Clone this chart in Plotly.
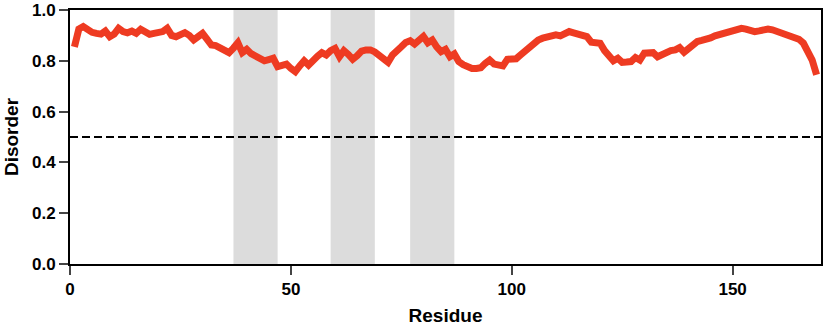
import plotly.graph_objects as go

residues = list(range(1, 170))
disorder = [
    0.855, 0.925, 0.935, 0.920, 0.912, 0.908, 0.905, 0.917, 0.895, 0.905,
    0.928, 0.915, 0.910, 0.917, 0.908, 0.924, 0.912, 0.904, 0.908, 0.912,
    0.915, 0.928, 0.900, 0.895, 0.900, 0.911, 0.900, 0.882, 0.895, 0.908,
    0.885, 0.862, 0.860, 0.849, 0.845, 0.832, 0.850, 0.871, 0.832, 0.845,
    0.828, 0.816, 0.805, 0.800, 0.805, 0.810, 0.777, 0.783, 0.787, 0.770,
    0.757, 0.780, 0.800, 0.783, 0.805, 0.818, 0.832, 0.823, 0.840, 0.849,
    0.816, 0.840, 0.825, 0.806, 0.820, 0.838, 0.843, 0.843, 0.835, 0.820,
    0.805, 0.794, 0.823, 0.835, 0.855, 0.872, 0.879, 0.866, 0.880, 0.896,
    0.871, 0.882, 0.855, 0.836, 0.845, 0.816, 0.827, 0.797, 0.785, 0.775,
    0.770, 0.770, 0.773, 0.790, 0.803, 0.787, 0.782, 0.780, 0.806, 0.806,
    0.808, 0.823, 0.838, 0.860, 0.869, 0.882, 0.889, 0.895, 0.898, 0.902,
    0.898, 0.905, 0.915, 0.910, 0.906, 0.904, 0.895, 0.873, 0.869, 0.869,
    0.840, 0.815, 0.800, 0.810, 0.794, 0.795, 0.797, 0.813, 0.803, 0.830,
    0.830, 0.832, 0.816, 0.825, 0.836, 0.840, 0.843, 0.852, 0.834, 0.850,
    0.865, 0.876, 0.880, 0.882, 0.890, 0.898, 0.904, 0.908, 0.912, 0.922,
    0.925, 0.928, 0.925, 0.918, 0.915, 0.918, 0.924, 0.925, 0.922, 0.917,
    0.912, 0.905, 0.902, 0.895, 0.885, 0.870, 0.840, 0.803, 0.745,
]
regions = [(37, 47), (59, 69), (77, 87)]
threshold = 0.5
x_ticks = [0, 50, 100, 150]
y_ticks = [0.0, 0.2, 0.4, 0.6, 0.8, 1.0]

fig = go.Figure()
fig.add_trace(go.Scatter(
    x=residues, y=disorder, mode="lines",
    line=dict(color="#ee3b22", width=7), showlegend=False,
))

for x0, x1 in regions:
    fig.add_shape(type="rect", x0=x0, x1=x1, y0=0, y1=1, xref="x", yref="y",
                  fillcolor="#dcdcdc", line=dict(width=0), layer="below")

fig.add_shape(type="line", x0=0, x1=170, y0=threshold, y1=threshold,
              xref="x", yref="y", line=dict(color="black", width=2, dash="8px,4px"))

font_tick = dict(family="Liberation Sans, Arial", size=17, color="black", weight="bold")
font_title = dict(family="Liberation Sans, Arial", size=19, color="black", weight="bold")

fig.update_layout(
    width=826, height=328,
    margin=dict(l=70, r=5, t=10, b=64, autoexpand=False),
    plot_bgcolor="white", paper_bgcolor="white",
    xaxis=dict(range=[0, 170], tickvals=x_ticks, ticks="outside", ticklen=9,
               tickwidth=2, showline=True, linewidth=2, linecolor="black",
               mirror=True, showgrid=False, zeroline=False, tickfont=font_tick,
               automargin=False,
               title=dict(text="Residue", font=font_title, standoff=10)),
    yaxis=dict(range=[0, 1], tickvals=y_ticks, tickformat=".1f", ticks="outside",
               ticklen=9, tickwidth=2, showline=True, linewidth=2, linecolor="black",
               mirror=True, showgrid=False, zeroline=False, tickfont=font_tick,
               automargin=False,
               title=dict(text="Disorder", font=font_title, standoff=8)),
)

fig.write_html("out.html", config={"displayModeBar": False},
               post_script="document.body.style.margin='0';document.body.style.overflow='hidden';")
